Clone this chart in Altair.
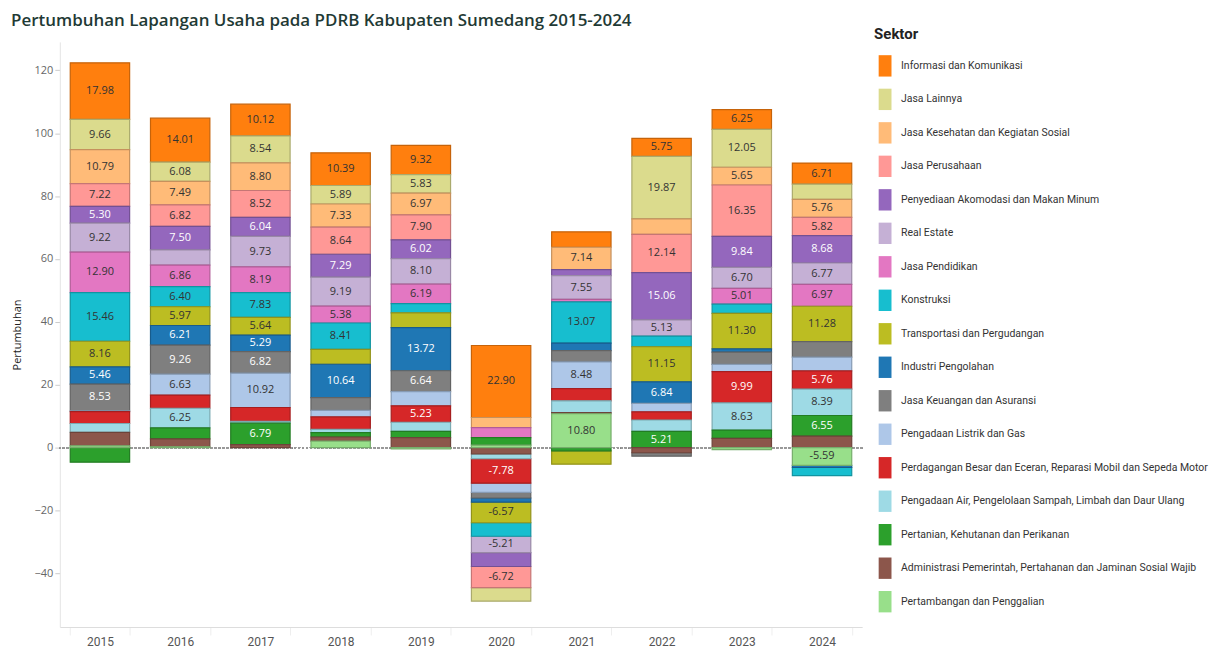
import altair as alt
import pandas as pd

years = [str(y) for y in range(2015, 2025)]

# legend order (top of stack first)
sectors = [
    "Informasi dan Komunikasi",
    "Jasa Lainnya",
    "Jasa Kesehatan dan Kegiatan Sosial",
    "Jasa Perusahaan",
    "Penyediaan Akomodasi dan Makan Minum",
    "Real Estate",
    "Jasa Pendidikan",
    "Konstruksi",
    "Transportasi dan Pergudangan",
    "Industri Pengolahan",
    "Jasa Keuangan dan Asuransi",
    "Pengadaan Listrik dan Gas",
    "Perdagangan Besar dan Eceran, Reparasi Mobil dan Sepeda Motor",
    "Pengadaan Air, Pengelolaan Sampah, Limbah dan Daur Ulang",
    "Pertanian, Kehutanan dan Perikanan",
    "Administrasi Pemerintah, Pertahanan dan Jaminan Sosial Wajib",
    "Pertambangan dan Penggalian",
]
colors = [
    "#ff7f0e", "#dbdb8d", "#ffbb78", "#ff9896", "#9467bd", "#c5b0d5",
    "#e377c2", "#17becf", "#bcbd22", "#1f77b4", "#7f7f7f", "#aec7e8",
    "#d62728", "#9edae5", "#2ca02c", "#8c564b", "#98df8a",
]

# values per sector, 2015..2024
informasi      = [17.98, 14.01, 10.12, 10.39, 9.32, 22.90, 4.9, 5.75, 6.25, 6.71]
jasa_lainnya   = [9.66, 6.08, 8.54, 5.89, 5.83, -4.3, 0.0, 19.87, 12.05, 4.8]
kesehatan      = [10.79, 7.49, 8.80, 7.33, 6.97, 3.2, 7.14, 4.9, 5.65, 5.76]
perusahaan     = [7.22, 6.82, 8.52, 8.64, 7.90, -6.72, 0.0, 12.14, 16.35, 5.82]
akomodasi      = [5.30, 7.50, 6.04, 7.29, 6.02, -4.4, 1.9, 15.06, 9.84, 8.68]
real_estate    = [9.22, 4.8, 9.73, 9.19, 8.10, -5.21, 7.55, 5.13, 6.70, 6.77]
pendidikan     = [12.90, 6.86, 8.19, 5.38, 6.19, 3.2, 0.8, 0.0, 5.01, 6.97]
konstruksi     = [15.46, 6.40, 7.83, 8.41, 2.9, -4.3, 13.07, 3.4, 2.9, -2.6]
transportasi   = [8.16, 5.97, 5.64, 4.7, 4.7, -6.57, -4.23, 11.15, 11.30, 11.28]
industri       = [5.46, 6.21, 5.29, 10.64, 13.72, -1.3, 2.4, 6.84, 1.0, -0.7]
keuangan       = [8.53, 9.26, 6.82, 4.0, 6.64, -1.8, 3.6, -1.1, 3.9, 4.9]
listrik        = [0.2, 6.63, 10.92, 2.1, 4.5, -2.9, 8.48, 2.7, 2.3, 4.4]
perdagangan    = [3.8, 4.2, 4.4, 4.0, 5.23, -7.78, 3.9, 2.6, 9.99, 5.76]
air            = [2.8, 6.25, 0.6, 1.0, 2.9, -1.5, 3.7, 3.6, 8.63, 8.39]
pertanian      = [-4.6, 3.5, 6.79, 1.4, 2.0, 2.4, -1.0, 5.21, 2.6, 6.55]
administrasi   = [4.3, 2.5, 1.0, 1.3, 3.2, -2.0, 0.4, -1.6, 3.0, 3.7]
pertambangan   = [0.6, 0.3, 0.0, 2.1, -0.4, 0.8, 10.80, 0.0, -0.6, -5.59]

series = [informasi, jasa_lainnya, kesehatan, perusahaan, akomodasi, real_estate,
          pendidikan, konstruksi, transportasi, industri, keuangan, listrik,
          perdagangan, air, pertanian, administrasi, pertambangan]

dark_sectors = [
    "Penyediaan Akomodasi dan Makan Minum", "Industri Pengolahan",
    "Jasa Keuangan dan Asuransi",
    "Perdagangan Besar dan Eceran, Reparasi Mobil dan Sepeda Motor",
    "Pertanian, Kehutanan dan Perikanan",
    "Administrasi Pemerintah, Pertahanan dan Jaminan Sosial Wajib",
]


def darker(h, f=0.78):
    h = h.lstrip("#")
    r, g, b = (int(h[i:i + 2], 16) for i in (0, 2, 4))
    return "#%02x%02x%02x" % (int(r * f), int(g * f), int(b * f))


edge_colors = [darker(c) for c in colors]

rows = []
n = len(sectors)
for si, (name, vals) in enumerate(zip(sectors, series)):
    for yr, v in zip(years, vals):
        if v != 0:
            rows.append({"Tahun": yr, "Sektor": name, "Nilai": v,
                         "urut": n - 1 - si,
                         "gelap": name in dark_sectors})
df = pd.DataFrame(rows)

FONT = "Roboto, 'Liberation Sans', sans-serif"
W = 805
H = 587

base = alt.Chart(df).transform_stack(
    stack="Nilai", groupby=["Tahun"], as_=["y0", "y1"],
    sort=[alt.SortField("urut", order="ascending")],
).transform_calculate(
    mid="(datum.y0 + datum.y1) / 2",
    lbl="(datum.Nilai < 0 ? '-' : '') + format(abs(datum.Nilai), '.2f')",
)

xenc = alt.X(
    "Tahun:N", sort=years, title=None,
    scale=alt.Scale(paddingInner=0.26, paddingOuter=0.13),
    axis=alt.Axis(labelAngle=0, labelFont=FONT, labelFontSize=12,
                  labelColor="#555555", domainColor="#dddddd",
                  tickColor="#eeeeee", tickBand="extent", ticks=True,
                  tickSize=8, labelPadding=2, grid=False),
)

yscale = alt.Scale(domain=[-57, 129], nice=False, zero=False)

bars = base.mark_bar(strokeWidth=1.2).encode(
    x=xenc,
    y=alt.Y("y0:Q", scale=yscale, title="Pertumbuhan",
            axis=alt.Axis(values=[-40, -20, 0, 20, 40, 60, 80, 100, 120],
                          labelFont="Open Sans", labelFontSize=11,
                          labelColor="#666666", titleFont="Open Sans",
                          titleFontSize=11, titleFontWeight="normal",
                          titleColor="#222222", gridColor="#ececec",
                          domainColor="#e4e4e4", tickColor="#cccccc",
                          tickSize=5, titlePadding=12)),
    y2="y1:Q",
    color=alt.Color(
        "Sektor:N", scale=alt.Scale(domain=sectors, range=colors),
        legend=alt.Legend(
            title="Sektor", orient="none", legendX=W + 12, legendY=-15,
            titleFont=FONT, titleFontSize=15, titleFontWeight="bold",
            titleColor="#222222", titlePadding=13,
            labelFont=FONT, labelFontSize=10.5, labelColor="#333333",
            labelLimit=340, labelOffset=5,
            symbolType="M-0.6,-1H0.6V1H-0.6Z", symbolSize=460,
            symbolStrokeWidth=0, rowPadding=11.6, symbolOpacity=1,
        ),
    ),
    stroke=alt.Stroke("Sektor:N",
                      scale=alt.Scale(domain=sectors, range=edge_colors),
                      legend=None),
)

labels = base.transform_filter("abs(datum.Nilai) >= 5").mark_text(
    font="Open Sans", fontSize=11,
).encode(
    x=alt.X("Tahun:N", sort=years),
    y=alt.Y("mid:Q", scale=yscale),
    text=alt.Text("lbl:N"),
    color=alt.condition("datum.gelap", alt.value("#ffffff"),
                        alt.value("#333333")),
)

zero = alt.Chart(df).mark_rule(color="#999999", strokeDash=[2, 2],
                               strokeWidth=1).encode(y=alt.datum(0))

chart = alt.layer(zero, bars, labels).properties(
    width=W, height=H,
    title=alt.TitleParams(
        "Pertumbuhan Lapangan Usaha pada PDRB Kabupaten Sumedang 2015-2024",
        anchor="start", frame="bounds", fontSize=17, font="Open Sans",
        fontWeight=600, color="#1f3a35", offset=-3,
    ),
    padding={"left": 3, "top": 3, "right": 0, "bottom": 0},
).configure_view(stroke=None)

chart.save("out.html", embed_options={"renderer": "svg", "actions": False})
